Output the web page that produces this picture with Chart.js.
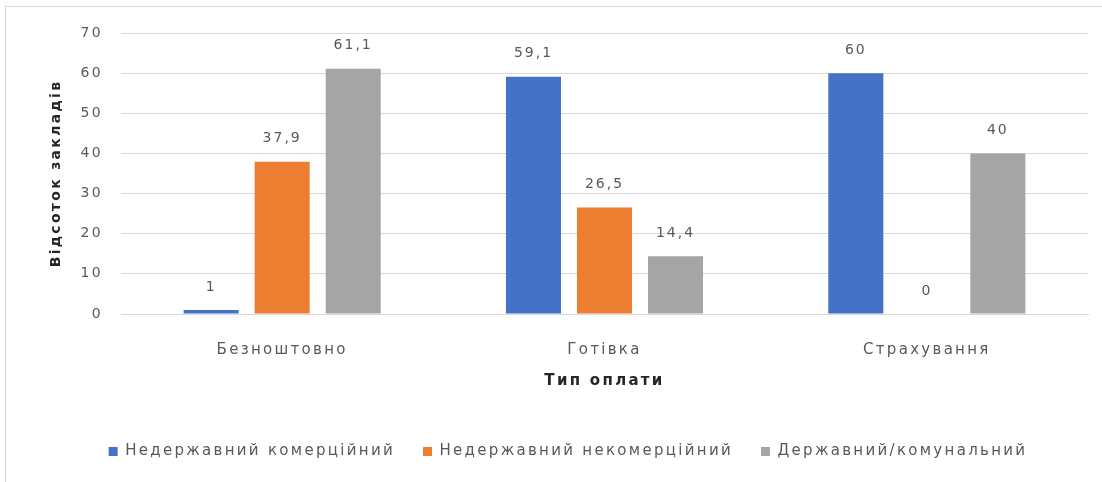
<!DOCTYPE html>
<html>
<head>
<meta charset="utf-8">
<script src="https://cdn.jsdelivr.net/npm/chart.js@4.4.0/dist/chart.umd.min.js"></script>
<style>
  html, body { margin: 0; padding: 0; background: #fff; }
  #frame { position: absolute; left: 5px; top: 6px; width: 1200px; height: 600px;
           border-left: 1px solid #d9d9d9; border-top: 1px solid #d9d9d9; }
  #wrap { position: absolute; left: 0; top: 0; width: 1102px; height: 482px; }
</style>
</head>
<body>
<div id="frame"></div>
<div id="wrap"><canvas id="myChart" width="1102" height="482"></canvas></div>
<script>
const categories = ['Безноштовно', 'Готівка', 'Страхування'];
const commercial = [1, 59.1, 60];
const nonCommercial = [37.9, 26.5, 0];
const stateMunicipal = [61.1, 14.4, 40];
const seriesNames = ['Недержавний комерційний', 'Недержавний некомерційний', 'Державний/комунальний'];
const yTicks = [0, 10, 20, 30, 40, 50, 60, 70];

const FONT = 'DejaVu Sans';
const SPACING = '2.3px';

// canvas state is reset on resize, so put the spacing back before each pass
const spacingPlugin = {
  id: 'spacing',
  beforeLayout(chart) { chart.ctx.letterSpacing = SPACING; },
  beforeDraw(chart) { chart.ctx.letterSpacing = SPACING; },
};

const valueLabels = {
  id: 'valueLabels',
  afterDatasetsDraw(chart) {
    const ctx = chart.ctx;
    ctx.save();
    ctx.letterSpacing = '2px';
    ctx.font = '14px "' + FONT + '"';
    ctx.fillStyle = '#595959';
    ctx.textAlign = 'center';
    ctx.textBaseline = 'middle';
    chart.data.datasets.forEach((ds, i) => {
      chart.getDatasetMeta(i).data.forEach((bar, j) => {
        const text = String(ds.data[j]).replace('.', ',');
        ctx.fillText(text, bar.x, bar.y - 23);
      });
    });
    ctx.restore();
  },
};

const ctx = document.getElementById('myChart').getContext('2d');

new Chart(ctx, {
  type: 'bar',
  data: {
    labels: categories,
    datasets: [
      { label: seriesNames[0], data: commercial, backgroundColor: '#4472C4' },
      { label: seriesNames[1], data: nonCommercial, backgroundColor: '#ED7D31' },
      { label: seriesNames[2], data: stateMunicipal, backgroundColor: '#A5A5A5' },
    ],
  },
  options: {
    responsive: false,
    animation: false,
    devicePixelRatio: 1,
    layout: { padding: { left: 48, right: 14, top: 33, bottom: 13 } },
    datasets: {
      bar: { categoryPercentage: 0.661, barPercentage: 0.775 },
    },
    plugins: {
      tooltip: { enabled: false },
      legend: {
        position: 'bottom',
        labels: {
          boxWidth: 9,
          boxHeight: 9,
          padding: 28,
          color: '#595959',
          font: { family: FONT, size: 15 },
        },
      },
    },
    scales: {
      x: {
        grid: { display: false },
        border: { color: '#d9d9d9' },
        ticks: { color: '#595959', padding: 19, font: { family: FONT, size: 15 } },
        title: {
          display: true,
          text: 'Тип оплати',
          color: '#262626',
          font: { family: FONT, size: 15, weight: 'bold' },
          padding: { top: 0, bottom: 26 },
        },
        afterFit(scale) { scale.height = 102; },
      },
      y: {
        min: 0,
        max: 70,
        afterBuildTicks(scale) { scale.ticks = yTicks.map(v => ({ value: v })); },
        grid: { color: '#d9d9d9', drawTicks: false },
        border: { display: false },
        ticks: { color: '#595959', padding: 18, font: { family: FONT, size: 14 } },
        title: {
          display: true,
          text: 'Відсоток закладів',
          color: '#262626',
          font: { family: FONT, size: 14, weight: 'bold' },
          padding: { top: 0, bottom: 0 },
        },
        afterFit(scale) { scale.width = 73; },
      },
    },
  },
  plugins: [spacingPlugin, valueLabels],
});
</script>
</body>
</html>
